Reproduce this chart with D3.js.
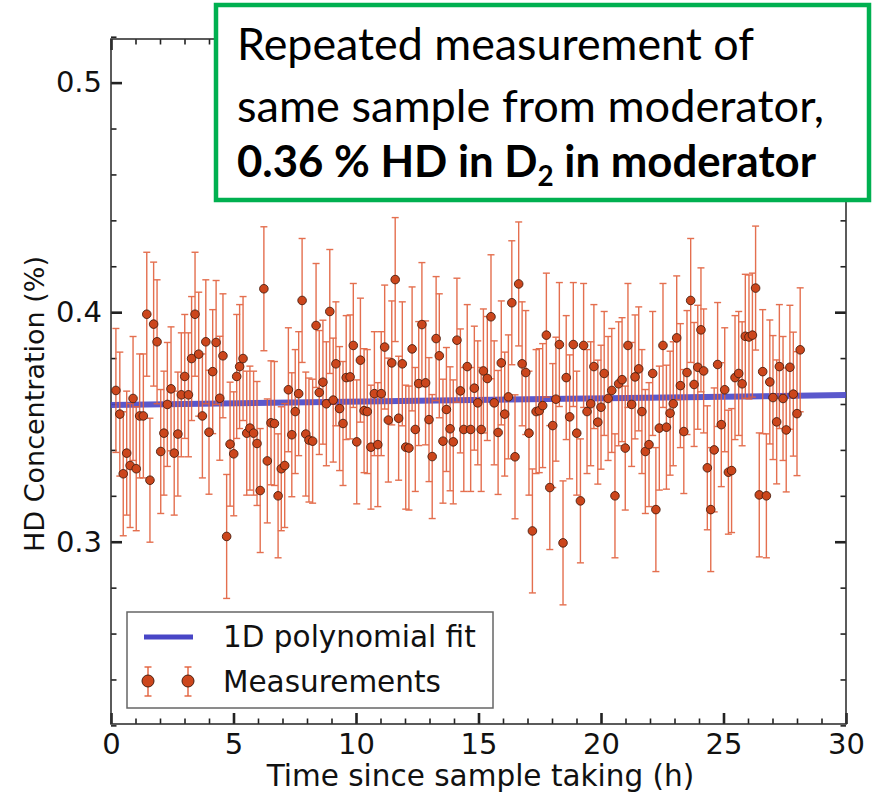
<!DOCTYPE html>
<html>
<head>
<meta charset="utf-8">
<script src="https://cdn.jsdelivr.net/npm/d3@7"></script>
<style>
  body { margin: 0; background: #fff; }
  svg { display: block; font-family: "DejaVu Sans", sans-serif; }
</style>
</head>
<body>
<div id="chart"></div>
<script>
// measurement times (h) and HD concentration (%)
const timeH = [
  0.20,0.36,0.50,0.64,0.78,0.90,1.03,1.17,1.32,1.46,
  1.59,1.74,1.88,2.03,2.16,2.30,2.45,2.58,2.73,2.87,
  3.01,3.16,3.29,3.43,3.58,3.73,3.87,4.00,4.15,4.29,
  4.44,4.57,4.72,4.86,5.01,5.13,5.25,5.39,5.54,5.67,
  5.82,5.96,6.09,6.24,6.38,6.53,6.67,6.82,6.95,7.09,
  7.24,7.38,7.52,7.66,7.80,7.95,8.08,8.23,8.37,8.50,
  8.65,8.79,8.93,9.07,9.18,9.33,9.47,9.60,9.76,9.89,
  10.03,10.18,10.33,10.46,10.61,10.75,10.89,11.03,11.17,11.32,
  11.46,11.60,11.74,11.89,12.03,12.16,12.29,12.42,12.56,12.69,
  12.84,12.98,13.11,13.27,13.40,13.55,13.69,13.84,13.97,14.12,
  14.26,14.40,14.54,14.68,14.83,14.97,15.11,15.20,15.36,15.51,
  15.64,15.80,15.93,16.07,16.22,16.36,16.49,16.64,16.78,16.93,
  17.06,17.20,17.35,17.48,17.62,17.77,17.91,18.03,18.16,18.30,
  18.45,18.58,18.72,18.87,19.01,19.16,19.29,19.43,19.58,19.71,
  19.87,20.00,20.13,20.29,20.44,20.57,20.72,20.86,20.99,21.10,
  21.25,21.39,21.54,21.67,21.81,21.96,22.11,22.24,22.38,22.53,
  22.67,22.82,22.95,23.09,23.24,23.38,23.51,23.66,23.80,23.95,
  24.08,24.19,24.34,24.48,24.62,24.76,24.91,25.05,25.20,25.33,
  25.47,25.62,25.76,25.89,26.04,26.18,26.31,26.46,26.60,26.75,
  26.89,27.02,27.17,27.28,27.43,27.56,27.71,27.85,28.00,28.13
];
const hdConc = [
  0.3659,0.3556,0.3296,0.3386,0.3332,0.3624,0.3318,0.3548,0.3548,0.3991,
  0.3268,0.3948,0.3871,0.3393,0.3473,0.3598,0.3666,0.3386,0.3469,0.3640,
  0.3720,0.3640,0.3798,0.3991,0.3817,0.3548,0.3871,0.3477,0.3741,0.3868,
  0.3625,0.3810,0.3023,0.3425,0.3383,0.3720,0.3763,0.3798,0.3473,0.3495,
  0.3473,0.3428,0.3223,0.4102,0.3352,0.3518,0.3515,0.3200,0.3318,0.3332,
  0.3662,0.3466,0.3567,0.3645,0.4051,0.3469,0.3443,0.3438,0.3942,0.3650,
  0.3695,0.3601,0.4003,0.3617,0.3775,0.3580,0.3515,0.3715,0.3718,0.3855,
  0.3435,0.3791,0.3571,0.3567,0.3412,0.3645,0.3423,0.3645,0.3848,0.3530,
  0.3779,0.4142,0.3538,0.3775,0.3412,0.3408,0.3840,0.3489,0.3689,0.3946,
  0.3692,0.3532,0.3371,0.3885,0.3810,0.3438,0.3576,0.3492,0.3435,0.3878,
  0.3657,0.3489,0.3763,0.3489,0.3669,0.3605,0.3489,0.3744,0.3711,0.3980,
  0.3605,0.3476,0.3779,0.3556,0.3631,0.4041,0.3370,0.4123,0.3775,0.3737,
  0.3473,0.3047,0.3567,0.3571,0.3593,0.3900,0.3236,0.3506,0.3621,0.3859,
  0.2995,0.3715,0.3544,0.3859,0.3473,0.3178,0.3855,0.3567,0.3601,0.3763,
  0.3521,0.3586,0.3733,0.3624,0.3659,0.3200,0.3688,0.3706,0.3408,0.3855,
  0.3598,0.3718,0.3753,0.3567,0.3393,0.3423,0.3733,0.3140,0.3495,0.3855,
  0.3499,0.3560,0.3601,0.3888,0.3680,0.3480,0.3737,0.4051,0.3685,0.3760,
  0.3923,0.3744,0.3322,0.3140,0.3400,0.3772,0.3510,0.3662,0.3303,0.3310,
  0.3715,0.3733,0.3688,0.3895,0.3892,0.3900,0.4105,0.3204,0.3741,0.3200,
  0.3696,0.3628,0.3522,0.3763,0.3624,0.3487,0.3760,0.3643,0.3558,0.3836
];
const errHalf = 0.027;            // error bars, roughly +/- 0.027 %
const fitIntercept = 0.3596;      // 1D polynomial fit
const fitSlope = 0.000143;

const xMajor = [0, 5, 10, 15, 20, 25, 30];
const yMajor = [0.3, 0.4, 0.5];
const legendLabels = ["1D polynomial fit", "Measurements"];
const titleLines = ["Repeated measurement of", "same sample from moderator,"];
const boldParts = ["0.36 % HD in D", "2", " in moderator"];

const W = 879, H = 796;
const plotL = 111, plotR = 846, plotT = 39, plotB = 724;

const svg = d3.select("#chart").append("svg")
    .attr("width", W)
    .attr("height", H);

const x = d3.scaleLinear().domain([0, 30]).range([plotL, plotR]);
const y = d3.scaleLinear().domain([0.2206, 0.519]).range([plotB, plotT]);

const xMinor = d3.range(0, 31, 1).filter(d => d % 5 !== 0);
const yMinor = d3.range(0.22, 0.52, 0.02).filter(d => Math.abs(d * 10 - Math.round(d * 10)) > 0.01);

// ticks on all four sides, pointing inward
function drawTicks(axis, tx, ty, vals, size, width, labels) {
    const g = svg.append("g")
        .attr("transform", `translate(${tx},${ty})`)
        .call(axis.tickValues(vals).tickSizeInner(-size).tickSizeOuter(0)
            .tickPadding(9).tickFormat(labels ? (d => d3.format(".1~f")(d)) : ""));
    g.select(".domain").remove();
    g.selectAll(".tick line").attr("stroke", "#222").attr("stroke-width", width);
    g.selectAll(".tick text").attr("font-size", 29).attr("fill", "#111")
        .attr("font-family", "DejaVu Sans");
    return g;
}
drawTicks(d3.axisBottom(x), 0, plotB, xMajor, 11, 2.6, true);
drawTicks(d3.axisBottom(x), 0, plotB, xMinor, 5.5, 1.6, false);
drawTicks(d3.axisTop(x), 0, plotT, xMajor, 11, 2.6, false);
drawTicks(d3.axisTop(x), 0, plotT, xMinor, 5.5, 1.6, false);
drawTicks(d3.axisLeft(y), plotL, 0, yMajor, 11, 2.6, true);
drawTicks(d3.axisLeft(y), plotL, 0, yMinor, 5.5, 1.6, false);
drawTicks(d3.axisRight(y), plotR, 0, yMajor, 11, 2.6, false);
drawTicks(d3.axisRight(y), plotR, 0, yMinor, 5.5, 1.6, false);

svg.append("rect")
    .attr("x", plotL).attr("y", plotT)
    .attr("width", plotR - plotL).attr("height", plotB - plotT)
    .attr("fill", "none").attr("stroke", "#333").attr("stroke-width", 1.6);

// fit line
const fitLine = d3.line().x(d => x(d)).y(d => y(fitIntercept + fitSlope * d));
svg.append("path")
    .datum([0, 30])
    .attr("d", fitLine)
    .attr("fill", "none")
    .attr("stroke", "#4846c6")
    .attr("stroke-width", 6)
    .attr("opacity", 0.9);

const pts = timeH.map((t, i) => ({ t: t, v: hdConc[i] }));

// error bars
const bars = svg.append("g")
    .attr("stroke", "#e2603c")
    .attr("stroke-width", 1.4)
    .attr("opacity", 0.9);
bars.selectAll("line.err").data(pts).join("line")
    .attr("class", "err")
    .attr("x1", d => x(d.t)).attr("x2", d => x(d.t))
    .attr("y1", d => y(d.v - errHalf)).attr("y2", d => y(d.v + errHalf));
bars.selectAll("line.capTop").data(pts).join("line")
    .attr("class", "capTop")
    .attr("x1", d => x(d.t) - 3.5).attr("x2", d => x(d.t) + 3.5)
    .attr("y1", d => y(d.v + errHalf)).attr("y2", d => y(d.v + errHalf));
bars.selectAll("line.capBot").data(pts).join("line")
    .attr("class", "capBot")
    .attr("x1", d => x(d.t) - 3.5).attr("x2", d => x(d.t) + 3.5)
    .attr("y1", d => y(d.v - errHalf)).attr("y2", d => y(d.v - errHalf));

// measurement points
svg.append("g").selectAll("circle").data(pts).join("circle")
    .attr("cx", d => x(d.t))
    .attr("cy", d => y(d.v))
    .attr("r", 4.3)
    .attr("fill", "#cc461c")
    .attr("stroke", "#4a1e0e")
    .attr("stroke-width", 0.9);

// axis labels
svg.append("text")
    .attr("x", (plotL + plotR) / 2 + 2).attr("y", 786)
    .attr("text-anchor", "middle")
    .attr("font-size", 29.5)
    .attr("fill", "#111")
    .text("Time since sample taking (h)");

svg.append("text")
    .attr("transform", "translate(44,404) rotate(-90)")
    .attr("text-anchor", "middle")
    .attr("font-size", 27)
    .attr("fill", "#111")
    .text("HD Concentration (%)");

// legend
const lg = svg.append("g");
lg.append("rect")
    .attr("x", 127).attr("y", 612).attr("width", 366).attr("height", 96)
    .attr("fill", "#fff").attr("stroke", "#666").attr("stroke-width", 1.5);
lg.append("line")
    .attr("x1", 144).attr("x2", 193).attr("y1", 637).attr("y2", 637)
    .attr("stroke", "#4846c6").attr("stroke-width", 5);
[148, 188].forEach(cx => {
    lg.append("line").attr("x1", cx).attr("x2", cx).attr("y1", 667).attr("y2", 696)
        .attr("stroke", "#e2603c").attr("stroke-width", 1.4);
    lg.append("line").attr("x1", cx - 3.5).attr("x2", cx + 3.5).attr("y1", 667).attr("y2", 667)
        .attr("stroke", "#e2603c").attr("stroke-width", 1.4);
    lg.append("line").attr("x1", cx - 3.5).attr("x2", cx + 3.5).attr("y1", 696).attr("y2", 696)
        .attr("stroke", "#e2603c").attr("stroke-width", 1.4);
    lg.append("circle").attr("cx", cx).attr("cy", 681).attr("r", 6)
        .attr("fill", "#cc461c").attr("stroke", "#4a1e0e").attr("stroke-width", 1);
});
lg.selectAll("text").data(legendLabels).join("text")
    .attr("x", 223)
    .attr("y", (d, i) => 647 + i * 45)
    .attr("font-size", 29.5)
    .attr("fill", "#111")
    .text(d => d);

// green annotation box
const box = svg.append("g");
box.append("rect")
    .attr("x", 216).attr("y", 5).attr("width", 653).attr("height", 195)
    .attr("fill", "#fff").attr("stroke", "#00b050").attr("stroke-width", 4.5);
box.selectAll("text.line").data(titleLines).join("text")
    .attr("class", "line")
    .attr("x", 237)
    .attr("y", (d, i) => 60 + i * 61.5)
    .attr("font-family", "Lato, 'Open Sans', sans-serif")
    .attr("font-size", 44)
    .attr("fill", "#000")
    .attr("textLength", (d, i) => [517, 587][i])
    .attr("lengthAdjust", "spacingAndGlyphs")
    .text(d => d);

// bold line with subscript: separate pieces laid side by side, then squeezed to width
const boldG = box.append("g");
const boldSizes = [44, 28, 44];
const boldDy = [0, 9, 0];
let cursor = 0;
boldParts.forEach((s, i) => {
    const t = boldG.append("text")
        .attr("x", cursor).attr("y", boldDy[i])
        .attr("font-family", "Lato, 'Open Sans', sans-serif")
        .attr("font-size", boldSizes[i])
        .attr("font-weight", "bold")
        .attr("fill", "#000")
        .attr("xml:space", "preserve")
        .style("white-space", "pre")
        .text(s);
    cursor += t.node().getComputedTextLength();
});
const sx = 579 / cursor;
boldG.attr("transform", `translate(237,177) scale(${sx},1)`);
</script>
</body>
</html>
